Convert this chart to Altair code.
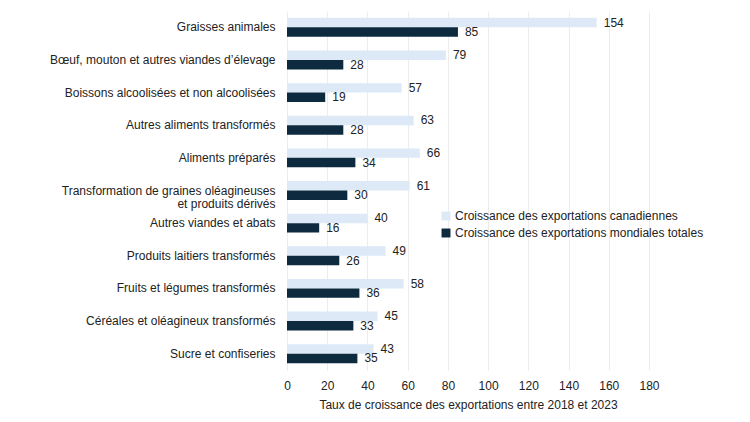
import altair as alt
import pandas as pd

categories = [
    "Graisses animales",
    "Bœuf, mouton et autres viandes d’élevage",
    "Boissons alcoolisées et non alcoolisées",
    "Autres aliments transformés",
    "Aliments préparés",
    "Transformation de graines oléagineuses|et produits dérivés",
    "Autres viandes et abats",
    "Produits laitiers transformés",
    "Fruits et légumes transformés",
    "Céréales et oléagineux transformés",
    "Sucre et confiseries",
]
canada = [154, 79, 57, 63, 66, 61, 40, 49, 58, 45, 43]
monde = [85, 28, 19, 28, 34, 30, 16, 26, 36, 33, 35]
series = ["Croissance des exportations canadiennes", "Croissance des exportations mondiales totales"]
colors = ["#dde9f7", "#0e2a3f"]

rows = []
for c, a, b in zip(categories, canada, monde):
    rows.append({"cat": c, "serie": series[0], "val": a})
    rows.append({"cat": c, "serie": series[1], "val": b})
df = pd.DataFrame(rows)

font = "Liberation Sans"
fs = 12

y = alt.Y("cat:N", sort=categories, title=None,
          scale=alt.Scale(paddingInner=0.42, paddingOuter=0.21),
          axis=alt.Axis(labelExpr="split(datum.label, '|')", labelFontSize=fs,
                        labelColor="#222", labelFont=font, ticks=False, domain=False,
                        labelPadding=12, labelLimit=300, labelLineHeight=13.5))
yoff = alt.YOffset("serie:N", sort=series)

bars = alt.Chart(df).mark_bar().encode(
    x=alt.X("val:Q", title="Taux de croissance des exportations entre 2018 et 2023",
            scale=alt.Scale(domain=[0, 180], nice=False),
            axis=alt.Axis(values=list(range(0, 181, 20)), grid=True, gridColor="#ececec",
                          domain=False, ticks=False, labelPadding=10, labelFontSize=fs,
                          labelFlush=False, labelBound=False,
                          labelColor="#222", labelFont=font, titleFont=font, titleFontSize=fs,
                          titleFontWeight="normal", titleColor="#222", titlePadding=8)),
    y=y,
    yOffset=yoff,
    color=alt.Color("serie:N", sort=series, scale=alt.Scale(domain=series, range=colors),
                    legend=alt.Legend(title=None, orient="none", legendX=153, legendY=199,
                                      symbolType="square", symbolSize=80, labelFontSize=fs,
                                      labelFont=font, labelColor="#222", symbolStrokeWidth=0,
                                      rowPadding=5, labelOffset=3, labelLimit=400)),
)

labels = alt.Chart(df).mark_text(align="left", baseline="middle", dx=7, fontSize=fs,
                                 font=font, color="#222").encode(
    x="val:Q", y=y, yOffset=yoff, text="val:Q")

chart = (bars + labels).properties(
    width=362, height=359,
    autosize=alt.AutoSizeParams(type="none"),
    padding={"left": 279, "top": 3, "right": 90, "bottom": 50},
).configure_view(stroke=None)

chart.save("out.html", embed_options={"renderer": "svg", "actions": False})
